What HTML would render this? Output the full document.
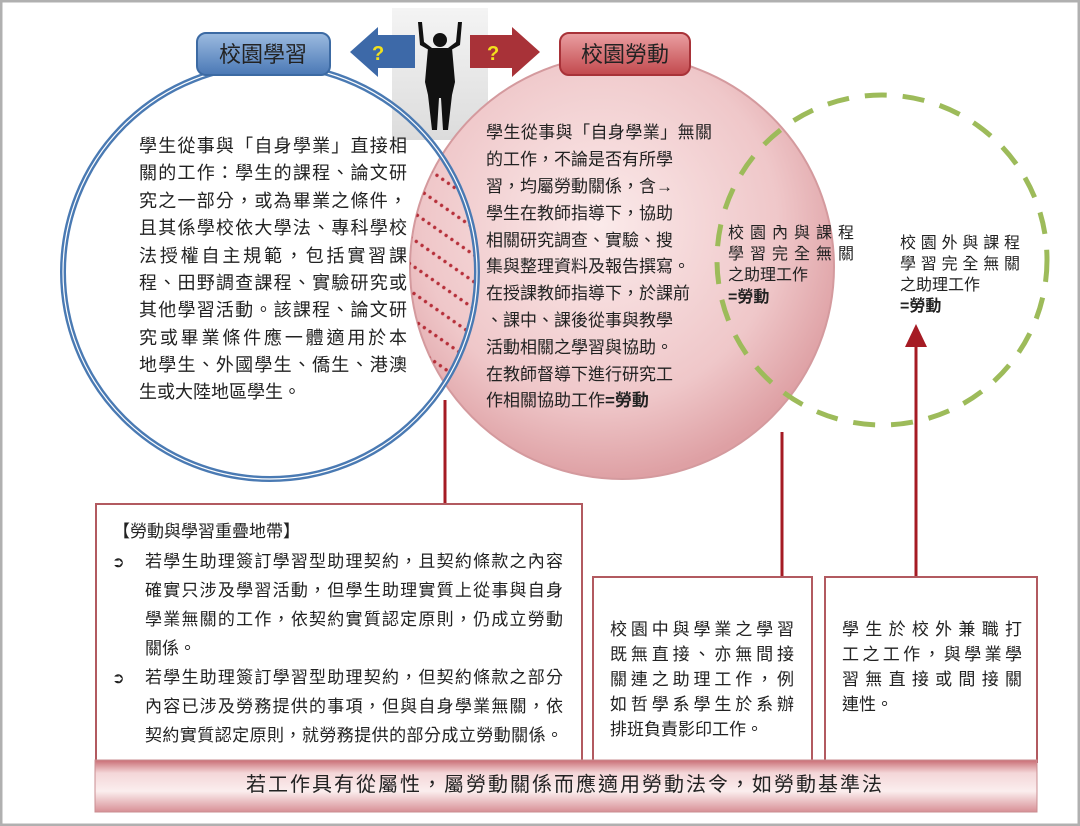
<!DOCTYPE html>
<html><head><meta charset="utf-8"><style>
html,body{margin:0;padding:0;background:#fff}
svg{display:block}
text{font-family:"Liberation Sans","Noto Sans CJK TC",sans-serif;fill:#222}
</style></head><body>
<svg width="1080" height="826" viewBox="0 0 1080 826" xmlns="http://www.w3.org/2000/svg">
<defs>
<radialGradient id="rg" cx="0.45" cy="0.4" r="0.6">
<stop offset="0" stop-color="#fbeaea"/><stop offset="0.7" stop-color="#efc7c9"/><stop offset="1" stop-color="#dea0a4"/>
</radialGradient>
<linearGradient id="band" x1="0" y1="0" x2="0" y2="1">
<stop offset="0" stop-color="#c96d74"/><stop offset="0.25" stop-color="#f4d6d8"/><stop offset="0.6" stop-color="#fbeeee"/><stop offset="1" stop-color="#d89096"/>
</linearGradient>
<linearGradient id="bl" x1="0" y1="0" x2="0" y2="1">
<stop offset="0" stop-color="#9cbbe0"/><stop offset="1" stop-color="#4a78b5"/>
</linearGradient>
<linearGradient id="rd" x1="0" y1="0" x2="0" y2="1">
<stop offset="0" stop-color="#eaa0a2"/><stop offset="1" stop-color="#c2484d"/>
</linearGradient>
<linearGradient id="ph" x1="0" y1="0" x2="0" y2="1">
<stop offset="0" stop-color="#f4f4f4"/><stop offset="1" stop-color="#dcdcdc"/>
</linearGradient>
<pattern id="dots" width="7" height="22" patternUnits="userSpaceOnUse" patternTransform="rotate(35)">
<circle cx="3.5" cy="3" r="1.7" fill="#b01f2a"/>
</pattern>
<clipPath id="blueC"><circle cx="270" cy="272" r="207"/></clipPath>
</defs>
<rect x="1" y="1" width="1078" height="824" fill="none" stroke="#b0b0b0" stroke-width="3"/>

<rect x="392" y="8" width="96" height="132" fill="url(#ph)"/>
<g fill="#111">
<circle cx="440" cy="40" r="7"/>
<path d="M428 48 L452 48 L455 82 L452 95 L448 130 L443 130 L441 98 L439 98 L437 130 L432 130 L428 95 L425 82 Z"/>
<path d="M429 50 L420 45 L418 22 L422 22 L424 42 L432 48 Z"/>
<path d="M451 50 L460 45 L462 22 L458 22 L456 42 L448 48 Z"/>
</g>

<circle cx="622" cy="267" r="212" fill="url(#rg)" stroke="#d49a9e" stroke-width="2"/>
<g clip-path="url(#blueC)"><circle cx="622" cy="267" r="212" fill="url(#dots)" opacity="0.9"/></g>
<circle cx="270" cy="272" r="207" fill="none" stroke="#4a7ab3" stroke-width="6"/>
<circle cx="270" cy="272" r="207" fill="none" stroke="#fff" stroke-width="1.2"/>
<circle cx="882" cy="260" r="165" fill="none" stroke="#9dbb5a" stroke-width="5" stroke-dasharray="22 16"/>

<rect x="197" y="33" width="133" height="42" rx="9" fill="url(#bl)" stroke="#3c6aa3" stroke-width="2"/>
<text x="263" y="62" font-size="22" text-anchor="middle">校園學習</text>
<rect x="560" y="33" width="130" height="42" rx="9" fill="url(#rd)" stroke="#a83238" stroke-width="2"/>
<text x="625" y="62" font-size="22" text-anchor="middle">校園勞動</text>
<path d="M415 35 L378 35 L378 27 L350 52 L378 77 L378 68 L415 68 Z" fill="#3d69a8"/>
<text x="372" y="60" font-size="20" font-weight="bold" style="fill:#f2e11c">?</text>
<path d="M470 35 L512 35 L512 27 L540 52 L512 77 L512 68 L470 68 Z" fill="#a83238"/>
<text x="487" y="60" font-size="20" font-weight="bold" style="fill:#f2e11c">?</text>

<g font-size="18">
<text x="139" y="152" textLength="268">學生從事與「自身學業」直接相</text>
<text x="139" y="179" textLength="268">關的工作：學生的課程、論文研</text>
<text x="139" y="207" textLength="268">究之一部分，或為畢業之條件，</text>
<text x="139" y="234" textLength="268">且其係學校依大學法、專科學校</text>
<text x="139" y="262" textLength="268">法授權自主規範，包括實習課</text>
<text x="139" y="289" textLength="268">程、田野調查課程、實驗研究或</text>
<text x="139" y="316" textLength="268">其他學習活動。該課程、論文研</text>
<text x="139" y="344" textLength="268">究或畢業條件應一體適用於本</text>
<text x="139" y="371" textLength="268">地學生、外國學生、僑生、港澳</text>
<text x="139" y="398">生或大陸地區學生。</text>
</g>
<g font-size="17">
<text x="486" y="138" textLength="226">學生從事與「自身學業」無關</text>
<text x="486" y="165">的工作，不論是否有所學</text>
<text x="486" y="192">習，均屬勞動關係，含→</text>
<text x="486" y="219">學生在教師指導下，協助</text>
<text x="486" y="246">相關研究調查、實驗、搜</text>
<text x="486" y="272">集與整理資料及報告撰寫。</text>
<text x="486" y="299">在授課教師指導下，於課前</text>
<text x="486" y="326">、課中、課後從事與教學</text>
<text x="486" y="353">活動相關之學習與協助。</text>
<text x="486" y="380">在教師督導下進行研究工</text>
<text x="486" y="406">作相關協助工作<tspan font-weight="bold">=勞動</tspan></text>
</g>
<g font-size="16">
<text x="728" y="238" textLength="126">校園內與課程</text>
<text x="728" y="259" textLength="126">學習完全無關</text>
<text x="728" y="280">之助理工作</text>
<text x="728" y="302" font-weight="bold">=勞動</text>
<text x="900" y="248" textLength="120">校園外與課程</text>
<text x="900" y="269" textLength="120">學習完全無關</text>
<text x="900" y="290">之助理工作</text>
<text x="900" y="311" font-weight="bold">=勞動</text>
</g>

<line x1="445" y1="400" x2="445" y2="504" stroke="#a51b24" stroke-width="3"/>
<line x1="782" y1="432" x2="782" y2="578" stroke="#a51b24" stroke-width="3"/>
<line x1="916" y1="345" x2="916" y2="578" stroke="#a51b24" stroke-width="3"/>
<path d="M905 347 L916 324 L927 347 Z" fill="#a51b24"/>

<rect x="96" y="504" width="486" height="258" fill="#fff" stroke="#b25a60" stroke-width="2"/>
<rect x="593" y="577" width="219" height="185" fill="#fff" stroke="#b25a60" stroke-width="2"/>
<rect x="825" y="577" width="212" height="185" fill="#fff" stroke="#b25a60" stroke-width="2"/>

<g font-size="17">
<text x="113" y="537">【勞動與學習重疊地帶】</text>
<text x="112" y="567" font-size="15">➲</text>
<text x="145" y="567" textLength="418">若學生助理簽訂學習型助理契約，且契約條款之內容</text>
<text x="145" y="596" textLength="418">確實只涉及學習活動，但學生助理實質上從事與自身</text>
<text x="145" y="625" textLength="418">學業無關的工作，依契約實質認定原則，仍成立勞動</text>
<text x="145" y="654">關係。</text>
<text x="112" y="683" font-size="15">➲</text>
<text x="145" y="683" textLength="418">若學生助理簽訂學習型助理契約，但契約條款之部分</text>
<text x="145" y="712" textLength="418">內容已涉及勞務提供的事項，但與自身學業無關，依</text>
<text x="145" y="741" textLength="418">契約實質認定原則，就勞務提供的部分成立勞動關係。</text>
</g>
<g font-size="17">
<text x="610" y="635" textLength="184">校園中與學業之學習</text>
<text x="610" y="660" textLength="184">既無直接、亦無間接</text>
<text x="610" y="685" textLength="184">關連之助理工作，例</text>
<text x="610" y="710" textLength="184">如哲學系學生於系辦</text>
<text x="610" y="735">排班負責影印工作。</text>
<text x="842" y="635" textLength="180">學生於校外兼職打</text>
<text x="842" y="660" textLength="180">工之工作，與學業學</text>
<text x="842" y="685" textLength="180">習無直接或間接關</text>
<text x="842" y="710">連性。</text>
</g>

<rect x="95" y="760" width="942" height="52" fill="url(#band)" stroke="#c98c90" stroke-width="1"/>
<text x="246" y="791" font-size="20" textLength="636">若工作具有從屬性，屬勞動關係而應適用勞動法令，如勞動基準法</text>
</svg>
</body></html>
